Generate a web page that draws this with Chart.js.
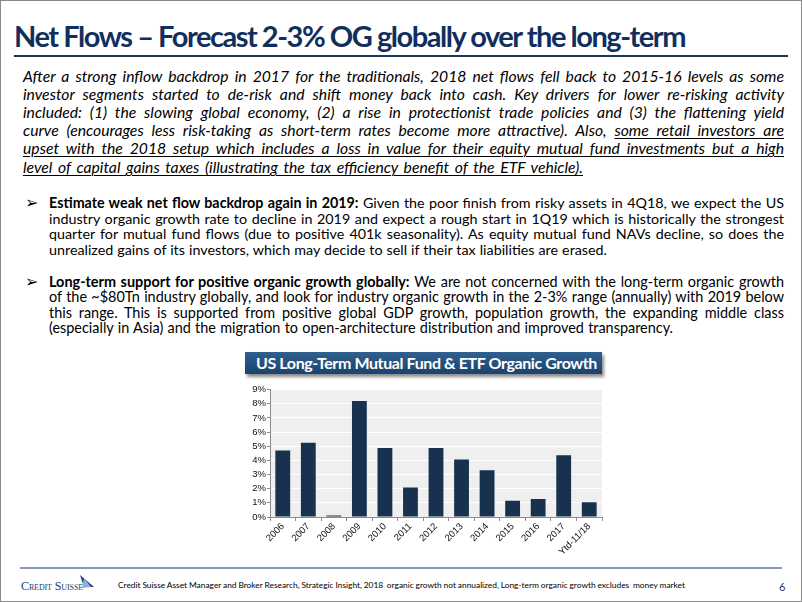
<!DOCTYPE html>
<html><head><meta charset="utf-8">
<script src="https://cdn.jsdelivr.net/npm/chart.js@4.4.1/dist/chart.umd.min.js"></script>
<style>
html,body{margin:0;padding:0;background:#fff;}
#slide{position:relative;width:802px;height:602px;overflow:hidden;background:#fff;}
#frame{position:absolute;left:0;top:0;width:800px;height:600px;border:1px solid #8a8a8a;}
.ln{position:absolute;white-space:nowrap;font-family:Lato,"Open Sans",sans-serif;color:#000;}
.it{font-style:italic;font-size:15.6px;line-height:18px;left:23px;}
.bl{font-size:14.2px;line-height:16px;left:49px;}
.u{text-decoration:underline;text-decoration-thickness:1px;text-underline-offset:2px;}
.arrow{position:absolute;left:25px;font-family:"DejaVu Sans",sans-serif;font-size:16px;line-height:16px;color:#000;}
#title{position:absolute;left:14px;top:18px;font-family:Lato,sans-serif;font-weight:700;font-size:29px;line-height:36px;color:#112f5e;white-space:nowrap;}
#tline{position:absolute;left:14px;top:55px;width:774px;height:2px;background:#1c375e;}
#ctitle{position:absolute;left:245px;top:352px;width:357px;height:22px;background:linear-gradient(#30608f,#1c426d);box-shadow:2px 3px 3px rgba(0,0,0,0.45);}
#ctitle span{position:absolute;left:11px;top:0;line-height:22px;font-family:Lato,sans-serif;font-weight:700;font-size:16px;color:#fff;white-space:nowrap;}
#chartBox{position:absolute;left:240px;top:383px;}
#fline{position:absolute;left:20px;top:567px;width:762px;height:2px;background:#8a9ab2;}
#logo{position:absolute;left:21px;top:579px;font-family:"Liberation Serif",serif;font-variant:small-caps;font-size:12px;line-height:14px;color:#1d3e6e;white-space:nowrap;}
#sail{position:absolute;left:78px;top:575px;}
#foot{position:absolute;left:118px;top:579px;font-family:Lato,sans-serif;font-size:8.4px;line-height:12px;color:#000;white-space:nowrap;}
#pnum{position:absolute;left:779px;top:580px;font-family:Lato,sans-serif;font-size:11px;line-height:14px;color:#1d3e6e;}
</style></head>
<body>
<div id="slide">
<div id="frame"></div>
<div id="title">Net Flows – Forecast 2-3% OG globally over the long-term</div>
<div id="tline"></div>

<div class="ln it p1" style="top:67px" data-w="761">After a strong inflow backdrop in 2017 for the traditionals, 2018 net flows fell back to 2015-16 levels as some</div>
<div class="ln it p1" style="top:85px" data-w="761">investor segments started to de-risk and shift money back into cash. Key drivers for lower re-risking activity</div>
<div class="ln it p1" style="top:103px" data-w="761">included: (1) the slowing global economy, (2) a rise in protectionist trade policies and (3) the flattening yield</div>
<div class="ln it p1" style="top:121px" data-w="761">curve (encourages less risk-taking as short-term rates become more attractive). Also, <span class="u">some retail investors are</span></div>
<div class="ln it u p1" style="top:139px" data-w="761">upset with the 2018 setup which includes a loss in value for their equity mutual fund investments but a high</div>
<div class="ln it u p1 last" style="top:158px" data-w="560">level of capital gains taxes (illustrating the tax efficiency benefit of the ETF vehicle).</div>

<div class="arrow" style="top:195px">➢</div>
<div class="ln bl p2" style="top:195px" data-w="735"><b>Estimate weak net flow backdrop again in 2019:</b> Given the poor finish from risky assets in 4Q18, we expect the US</div>
<div class="ln bl p2" style="top:210.5px" data-w="735">industry organic growth rate to decline in 2019 and expect a rough start in 1Q19 which is historically the strongest</div>
<div class="ln bl p2" style="top:226px" data-w="735">quarter for mutual fund flows (due to positive 401k seasonality). As equity mutual fund NAVs decline, so does the</div>
<div class="ln bl p2 last" style="top:241.5px" data-w="558">unrealized gains of its investors, which may decide to sell if their tax liabilities are erased.</div>

<div class="arrow" style="top:273.5px">➢</div>
<div class="ln bl p3" style="top:273.5px" data-w="735"><b>Long-term support for positive organic growth globally:</b> We are not concerned with the long-term organic growth</div>
<div class="ln bl p3" style="top:289px" data-w="735">of the ~$80Tn industry globally, and look for industry organic growth in the 2-3% range (annually) with 2019 below</div>
<div class="ln bl p3" style="top:304.5px" data-w="735">this range. This is supported from positive global GDP growth, population growth, the expanding middle class</div>
<div class="ln bl p3 last" style="top:320px" data-w="624">(especially in Asia) and the migration to open-architecture distribution and improved transparency.</div>

<div id="ctitle"><span id="ctext">US Long-Term Mutual Fund &amp; ETF Organic Growth</span></div>
<div id="chartBox"><canvas id="c" width="364" height="174"></canvas></div>

<div id="fline"></div>
<div id="logo">Credit Suisse</div>
<svg id="sail" width="18" height="14" viewBox="0 0 18 14"><polygon points="2,0 16,12 6,12" fill="#1d3e6e"/><polygon points="6,3 13,12 4,13" fill="#8fb0d6"/></svg>
<div id="foot">Credit Suisse Asset Manager and Broker Research, Strategic Insight, 2018&nbsp; organic growth not annualized, Long-term organic growth excludes&nbsp; money market</div>
<div id="pnum">6</div>
</div>

<script>
const categories = ['2006','2007','2008','2009','2010','2011','2012','2013','2014','2015','2016','2017','Ytd-11/18'];
const organicGrowthPct = [4.7, 5.25, 0.1, 8.2, 4.87, 2.08, 4.87, 4.07, 3.3, 1.15, 1.28, 4.37, 1.05];
const yMin = 0;
const yMax = 9;
const yStep = 1;

function fitWords(el, target){
  el.style.wordSpacing='0px';
  const w = el.getBoundingClientRect().width;
  const n = (el.textContent.match(/[ \u00a0]/g)||[]).length;
  if(n>0) el.style.wordSpacing = ((target-w)/n)+'px';
}
function fitLetters(el, target){
  el.style.letterSpacing='0px';
  const w = el.getBoundingClientRect().width;
  const n = el.textContent.length;
  el.style.letterSpacing = ((target-w)/n)+'px';
}
function calibrate(cls, factor){
  const els = Array.from(document.querySelectorAll('.'+cls));
  const last = els.find(e=>e.classList.contains('last'));
  last.style.wordSpacing='0px';
  const fs = parseFloat(getComputedStyle(last).fontSize);
  const w = last.getBoundingClientRect().width;
  const nfs = fs * (+last.dataset.w)/w * factor;
  els.forEach(e=>{ e.style.fontSize = nfs+'px'; });
}
function fitAll(){
  calibrate('p1', 0.955);
  calibrate('p2', 0.99);
  calibrate('p3', 0.99);
  document.querySelectorAll('.ln').forEach(el=>fitWords(el, +el.dataset.w));
  fitLetters(document.getElementById('title'), 671);
  fitLetters(document.getElementById('ctext'), 341);
  fitLetters(document.getElementById('logo'), 62);
  fitWords(document.getElementById('foot'), 567);
}
fitAll();
if(document.fonts && document.fonts.ready) document.fonts.ready.then(fitAll);

const plotBg = {
  id:'plotBg',
  beforeDraw(chart){
    const {ctx, chartArea:a} = chart;
    ctx.save();
    ctx.fillStyle = '#efefef';
    ctx.fillRect(a.left, a.top, a.right-a.left, a.bottom-a.top);
    ctx.restore();
  }
};

new Chart(document.getElementById('c'), {
  type:'bar',
  data:{
    labels: categories,
    datasets:[{
      data: organicGrowthPct,
      backgroundColor:'#18314f',
      borderWidth:0,
      categoryPercentage:1,
      barPercentage:0.58
    }]
  },
  options:{
    responsive:false,
    animation:false,
    devicePixelRatio:1,
    layout:{padding:{top:0,right:2,left:0,bottom:0}},
    plugins:{legend:{display:false},tooltip:{enabled:false},title:{display:false}},
    scales:{
      x:{
        grid:{drawOnChartArea:false, drawTicks:true, tickLength:4, tickColor:'#8c8c8c', offset:true},
        border:{color:'#8c8c8c', width:1},
        ticks:{autoSkip:false, maxRotation:45, minRotation:45, padding:0, color:'#111',
               font:{family:'"Liberation Sans", Arial, sans-serif', size:9.5}},
        afterFit(s){ s.height = 40; }
      },
      y:{
        min:yMin, max:yMax,
        grid:{color:'#ffffff', lineWidth:1, drawTicks:true, tickLength:3, tickColor:'#8c8c8c'},
        border:{color:'#8c8c8c', width:1},
        ticks:{stepSize:yStep, autoSkip:false, padding:1, color:'#111',
               font:{family:'"Liberation Sans", Arial, sans-serif', size:9.5},
               callback:(v)=>v+'%'},
        afterFit(s){ s.width = 30; }
      }
    }
  },
  plugins:[plotBg]
});
</script>
</body></html>
